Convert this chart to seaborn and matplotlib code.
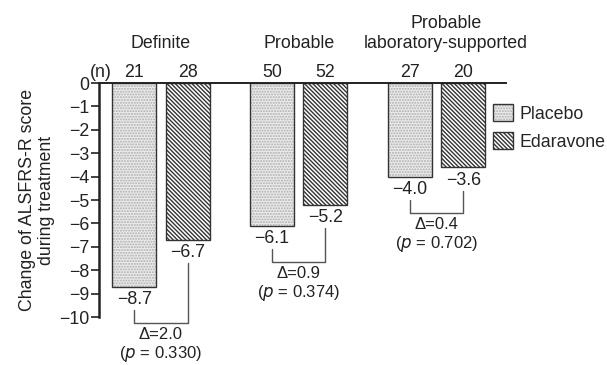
import numpy as np
import pandas as pd
import seaborn as sns
import matplotlib.pyplot as plt
from matplotlib.patches import Patch

# Values
groups = ["Definite", "Probable", "Probable\nlaboratory-supported"]
treatments = ["Placebo", "Edaravone"]
placebo = [-8.7, -6.1, -4.0]
edaravone = [-6.7, -5.2, -3.6]
n_placebo = [21, 50, 27]
n_edaravone = [28, 52, 20]
p_values = ["0.330", "0.374", "0.702"]

data = pd.DataFrame({
    "group": groups * 2,
    "treatment": ["Placebo"] * 3 + ["Edaravone"] * 3,
    "change": placebo + edaravone,
})

sns.set_theme(style="white")
plt.rcParams["font.family"] = ["Liberation Sans", "DejaVu Sans"]
plt.rcParams["hatch.linewidth"] = 1.0
FS = 12.8
FS_STAT = 12.0
DARK = "#333333"
TXT = "#222222"
STIPPLE = "......"
STRIPES = "\\" * 8

fig = plt.figure(figsize=(6.07, 3.65), dpi=100)
ax = fig.add_axes([0.163, 0.1315, 0.671, 0.641])

sns.barplot(data=data, x="group", y="change", hue="treatment",
            hue_order=treatments, order=groups, width=0.776, gap=0.175,
            palette=["#ececec", "white"], edgecolor=DARK, linewidth=1.0,
            legend=False, ax=ax)

for i, p in enumerate(ax.patches):
    if i < 3:
        p.set_hatch(STIPPLE)
        p._hatch_color = (0.68, 0.68, 0.68, 1)
    else:
        p.set_hatch(STRIPES)
        p._hatch_color = (0.2, 0.2, 0.2, 1)

ax.set_xlim(-0.45, 2.507)
ax.set_ylim(-10, 0)
ax.set_yticks(np.arange(-10, 1, 1))
ax.set_xticks([])
ax.set_xlabel("")
ax.set_ylabel("Change of ALSFRS-R score\nduring treatment", fontsize=FS,
              labelpad=3, linespacing=1.15, color=TXT)
ax.tick_params(axis="y", direction="out", length=6, width=1.2, pad=1,
               labelsize=FS, left=True, colors=TXT)
for side in ["right", "bottom"]:
    ax.spines[side].set_visible(False)
ax.spines["left"].set_linewidth(1.8)
ax.spines["top"].set_linewidth(1.4)
ax.spines["left"].set_color(TXT)
ax.spines["top"].set_color(TXT)

off = 0.194
ax.text(0.005, 0.26, "(n)", transform=ax.get_yaxis_transform(), ha="center",
        va="baseline", fontsize=FS, color=TXT)

for g in range(len(groups)):
    xp, xe = g - off, g + off
    vp, ve = placebo[g], edaravone[g]
    # n labels and group labels above the bars
    ax.text(xp, 0.26, str(n_placebo[g]), ha="center", va="baseline", fontsize=FS, color=TXT)
    ax.text(xe, 0.26, str(n_edaravone[g]), ha="center", va="baseline", fontsize=FS, color=TXT)
    dx = 0.07 if "\n" in groups[g] else 0
    ax.text(g + dx, 1.33, groups[g], ha="center", va="bottom", fontsize=FS,
            color=TXT, linespacing=1.2)
    # value labels
    for x, v in [(xp, vp), (xe, ve)]:
        ax.text(x, v - 0.55, f"{v:.1f}".replace("-", "\u2212"), ha="center",
                va="center", fontsize=FS, color=TXT, clip_on=False)
    # bracket between the two bars
    low = min(vp, ve) - 1.55
    ax.plot([xp, xp, xe, xe], [vp - 1.0, low, low, ve - 1.0], color="#555555",
            lw=1.0, clip_on=False)
    delta = ve - vp
    ax.text(g, low - 0.5, f"\u0394={delta:.1f}", ha="center", va="center",
            fontsize=FS_STAT, color=TXT, clip_on=False)
    ax.text(g, low - 1.33, f"($p$ = {p_values[g]})", ha="center", va="center",
            fontsize=FS_STAT, color=TXT, clip_on=False)

handles = [Patch(facecolor="#ececec", edgecolor=DARK, hatch=STIPPLE),
           Patch(facecolor="white", edgecolor=DARK, hatch=STRIPES)]
handles[0]._hatch_color = (0.68, 0.68, 0.68, 1)
leg = ax.legend(handles, treatments, loc="upper left",
                bbox_to_anchor=(493 / 607, 1 - 104 / 365),
                bbox_transform=fig.transFigure, frameon=False, fontsize=FS,
                handlelength=1.1, handleheight=1.1, handletextpad=0.4,
                labelspacing=0.55, borderpad=0, borderaxespad=0)

fig.savefig("out.png", dpi=100)
